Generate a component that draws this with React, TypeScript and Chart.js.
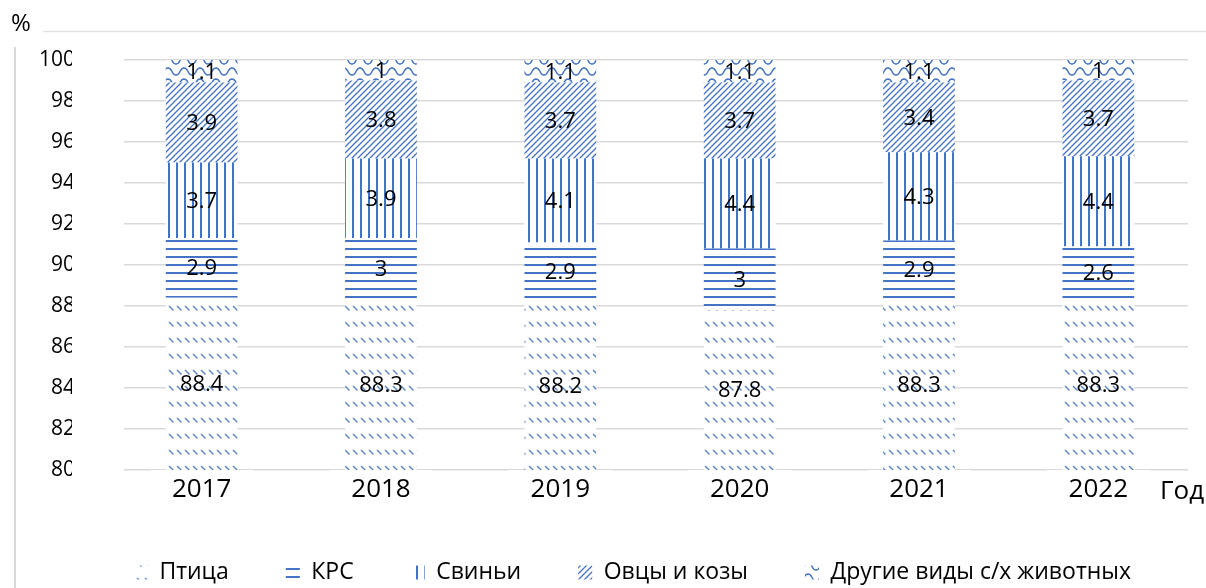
import React, { useEffect, useRef } from "react";
import { Chart, registerables } from "chart.js";

Chart.register(...registerables);

// ---- data ----
const years = ["2017", "2018", "2019", "2020", "2021", "2022"];
const poultry = [88.4, 88.3, 88.2, 87.8, 88.3, 88.3];
const cattle = [2.9, 3, 2.9, 3, 2.9, 2.6];
const pigs = [3.7, 3.9, 4.1, 4.4, 4.3, 4.4];
const sheepGoats = [3.9, 3.8, 3.7, 3.7, 3.4, 3.7];
const others = [1.1, 1, 1.1, 1.1, 1.1, 1];
const seriesNames = ["Птица", "КРС", "Свиньи", "Овцы и козы", "Другие виды с/х животных"];
const yMin = 80;
const yMax = 100;
const yStep = 2;
const yUnit = "%";
const xUnit = "Год";

const BLUE = "#4472C4";
const FONT = '"Open Sans", "Noto Sans", sans-serif';

function makePattern(w: number, h: number, draw: (g: CanvasRenderingContext2D) => void) {
  const c = document.createElement("canvas");
  c.width = w;
  c.height = h;
  const g = c.getContext("2d") as CanvasRenderingContext2D;
  g.fillStyle = "#ffffff";
  g.fillRect(0, 0, w, h);
  g.strokeStyle = BLUE;
  g.fillStyle = BLUE;
  draw(g);
  return g.createPattern(c, "repeat") as CanvasPattern;
}

function buildPatterns() {
  const poultryP = makePattern(8, 16, (g) => {
    g.strokeStyle = "#5a83cd";
    g.lineWidth = 1.4;
    g.beginPath();
    g.moveTo(1, 2);
    g.lineTo(5.5, 6.5);
    g.stroke();
  });
  const cattleP = makePattern(8, 8, (g) => {
    g.fillRect(0, 0, 8, 2);
  });
  const pigsP = makePattern(8, 8, (g) => {
    g.fillRect(0, 0, 2, 8);
  });
  const sheepP = makePattern(6, 6, (g) => {
    g.lineWidth = 1.3;
    g.beginPath();
    g.moveTo(0, 6);
    g.lineTo(6, 0);
    g.moveTo(-1, 1);
    g.lineTo(1, -1);
    g.moveTo(5, 7);
    g.lineTo(7, 5);
    g.stroke();
  });
  const othersP = makePattern(16, 11, (g) => {
    g.lineWidth = 1.4;
    g.beginPath();
    g.moveTo(0, 9);
    g.bezierCurveTo(5, 9, 3, 2, 8, 2);
    g.bezierCurveTo(13, 2, 11, 9, 16, 9);
    g.stroke();
  });
  return [poultryP, cattleP, pigsP, sheepP, othersP];
}

const segLabelPlugin = {
  id: "segLabels",
  afterDatasetsDraw(chart: any) {
    const ctx = chart.ctx as CanvasRenderingContext2D;
    const area = chart.chartArea;
    ctx.save();
    ctx.font = `22px ${FONT}`;
    ctx.fillStyle = "#000";
    ctx.textAlign = "center";
    ctx.textBaseline = "middle";
    chart.data.datasets.forEach((ds: any, i: number) => {
      const meta = chart.getDatasetMeta(i);
      meta.data.forEach((el: any, j: number) => {
        const p = el.getProps(["x", "y", "base"], true);
        const top = Math.max(Math.min(p.y, p.base), area.top);
        const bottom = Math.min(Math.max(p.y, p.base), area.bottom);
        ctx.fillText(String(ds.data[j]), p.x, (top + bottom) / 2 + 1);
      });
    });
    ctx.restore();
  },
};

const decorPlugin = {
  id: "decor",
  beforeDraw(chart: any) {
    const ctx = chart.ctx as CanvasRenderingContext2D;
    ctx.save();
    ctx.fillStyle = "#ffffff";
    ctx.fillRect(0, 0, chart.width, chart.height);
    ctx.restore();
  },
  afterDraw(chart: any) {
    const ctx = chart.ctx as CanvasRenderingContext2D;
    const area = chart.chartArea;
    ctx.save();
    // white band that clips the y tick labels and the start of gridlines
    ctx.fillStyle = "#ffffff";
    ctx.fillRect(72, 40, area.left + 12 - 72, area.bottom + 8 - 40);
    // unit "%" and top rule
    ctx.fillStyle = "#000";
    ctx.font = `24px ${FONT}`;
    ctx.textAlign = "left";
    ctx.textBaseline = "middle";
    ctx.fillText(yUnit, 11, 24);
    ctx.strokeStyle = "#e2e2e2";
    ctx.lineWidth = 1.5;
    ctx.beginPath();
    ctx.moveTo(43, 31.5);
    ctx.lineTo(chart.width, 31.5);
    ctx.stroke();
    // left frame line
    ctx.strokeStyle = "#d9d9d9";
    ctx.lineWidth = 2;
    ctx.beginPath();
    ctx.moveTo(15, 47);
    ctx.lineTo(15, chart.height);
    ctx.stroke();
    // x unit
    ctx.font = `26px ${FONT}`;
    ctx.fillText(xUnit, 1160, area.bottom + 22);
    ctx.restore();
  },
};

export default function App() {
  const ref = useRef<HTMLCanvasElement | null>(null);

  useEffect(() => {
    if (!ref.current) return;
    const pats = buildPatterns();
    const seriesValues = [poultry, cattle, pigs, sheepGoats, others];
    const padLeft = 30;
    const chart = new Chart(ref.current, {
      type: "bar",
      data: {
        labels: years,
        datasets: seriesValues.map((vals, i) => ({
          label: seriesNames[i],
          data: vals,
          backgroundColor: pats[i],
          borderWidth: 0,
          barPercentage: 0.4,
          categoryPercentage: 1,
        })),
      },
      options: {
        responsive: false,
        animation: false,
        layout: { padding: { top: 60, right: 18, left: padLeft, bottom: -6 } },
        plugins: {
          tooltip: { enabled: false },
          legend: {
            position: "bottom",
            align: "end",
            labels: {
              font: { family: FONT, size: 23 },
              color: "#000",
              boxWidth: 14,
              boxHeight: 14,
              padding: 57,
            },
          },
        },
        scales: {
          x: {
            stacked: true,
            grid: { display: false, drawTicks: false },
            border: { display: false },
            ticks: {
              font: { family: FONT, size: 26 },
              color: "#000",
              padding: 4,
              showLabelBackdrop: true,
              backdropColor: "#ffffff",
              backdropPadding: { top: 14, bottom: 6, left: 22, right: 22 },
            } as any,
            afterFit: (s: any) => {
              s.height = 34;
            },
          },
          y: {
            stacked: true,
            min: yMin,
            max: yMax,
            grid: { color: "#d9d9d9", lineWidth: 1.6, drawTicks: false },
            border: { display: false },
            ticks: {
              stepSize: yStep,
              font: { family: FONT, size: 21 },
              color: "#000",
              padding: 37,
            },
            afterFit: (s: any) => {
              s.width = 112 - padLeft;
            },
          },
        },
      },
      plugins: [segLabelPlugin, decorPlugin],
    });
    return () => chart.destroy();
  }, []);

  return (
    <div style={{ position: "fixed", left: 0, top: 0, width: 1206, height: 588, background: "#fff" }}>
      <canvas ref={ref} width={1206} height={588} style={{ display: "block" }} />
    </div>
  );
}
